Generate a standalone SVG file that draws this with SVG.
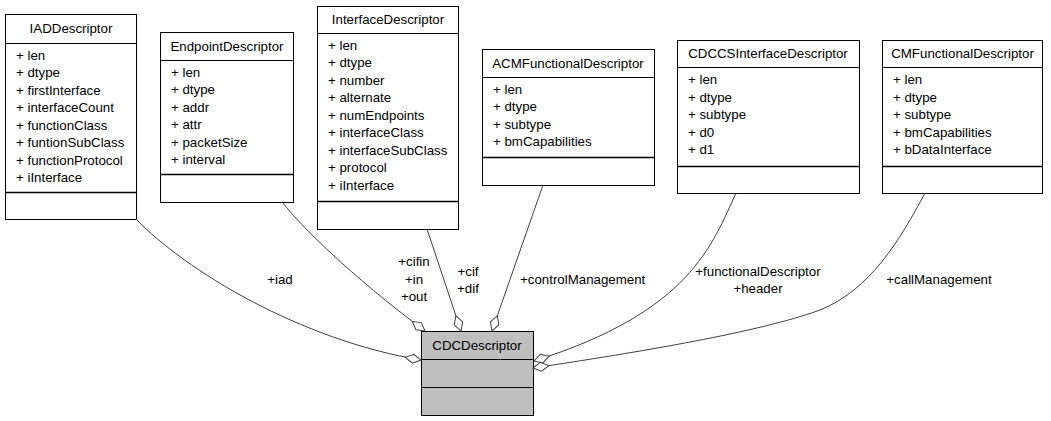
<svg xmlns="http://www.w3.org/2000/svg" width="1051" height="421" viewBox="0 0 1051 421">
<style>
  .box { fill: #ffffff; stroke: #000000; stroke-width: 1; }
  .cdc { fill: #bfbfbf; stroke: #000000; stroke-width: 1; }
  .sep { stroke: #000000; stroke-width: 1; }
  .sep2 { stroke: #000000; stroke-width: 1.6; }
  text { font-family: "Liberation Sans", Arial, Helvetica, sans-serif; font-size: 13.3px; fill: #000000; }
  .title { text-anchor: middle; }
  .mid { text-anchor: middle; }
  .edge { fill: none; stroke: #404040; stroke-width: 1; marker-end: url(#odiamond); }
</style>
<defs>
  <marker id="odiamond" viewBox="-1 -1 18 11" refX="16" refY="4.5" markerWidth="18" markerHeight="11" markerUnits="userSpaceOnUse" orient="auto">
    <path d="M0,4.5 L8,0 L16,4.5 L8,9 Z" fill="#ffffff" stroke="#404040" stroke-width="1"/>
  </marker>
</defs>
<rect width="1051" height="421" fill="#ffffff"/>

<g id="IADDescriptor">
  <rect class="box" x="5.5" y="14.5" width="131" height="205"/>
  <line class="sep" x1="5.5" y1="43.5" x2="136.5" y2="43.5"/>
  <line class="sep2" x1="5.5" y1="192.5" x2="136.5" y2="192.5"/>
  <text class="title" x="71" y="33">IADDescriptor</text>
  <text x="16" y="59.5">+ len</text>
  <text x="16" y="77">+ dtype</text>
  <text x="16" y="94.5">+ firstInterface</text>
  <text x="16" y="112">+ interfaceCount</text>
  <text x="16" y="129.5">+ functionClass</text>
  <text x="16" y="147">+ funtionSubClass</text>
  <text x="16" y="164.5">+ functionProtocol</text>
  <text x="16" y="182">+ iInterface</text>
</g>

<g id="EndpointDescriptor">
  <rect class="box" x="160.5" y="32.5" width="133" height="170"/>
  <line class="sep" x1="160.5" y1="60.5" x2="293.5" y2="60.5"/>
  <line class="sep2" x1="160.5" y1="174.5" x2="293.5" y2="174.5"/>
  <text class="title" x="227" y="50.5">EndpointDescriptor</text>
  <text x="171" y="76.5">+ len</text>
  <text x="171" y="94">+ dtype</text>
  <text x="171" y="111.5">+ addr</text>
  <text x="171" y="129">+ attr</text>
  <text x="171" y="146.5">+ packetSize</text>
  <text x="171" y="164">+ interval</text>
</g>

<g id="InterfaceDescriptor">
  <rect class="box" x="317.5" y="6.5" width="141" height="223"/>
  <line class="sep" x1="317.5" y1="33.5" x2="458.5" y2="33.5"/>
  <line class="sep2" x1="317.5" y1="201.5" x2="458.5" y2="201.5"/>
  <text class="title" x="388" y="24">InterfaceDescriptor</text>
  <text x="328" y="49.5">+ len</text>
  <text x="328" y="67">+ dtype</text>
  <text x="328" y="84.5">+ number</text>
  <text x="328" y="102">+ alternate</text>
  <text x="328" y="119.5">+ numEndpoints</text>
  <text x="328" y="137">+ interfaceClass</text>
  <text x="328" y="154.5">+ interfaceSubClass</text>
  <text x="328" y="172">+ protocol</text>
  <text x="328" y="189.5">+ iInterface</text>
</g>

<g id="ACMFunctionalDescriptor">
  <rect class="box" x="482.5" y="49.5" width="172" height="136"/>
  <line class="sep" x1="482.5" y1="77.5" x2="654.5" y2="77.5"/>
  <line class="sep2" x1="482.5" y1="157.5" x2="654.5" y2="157.5"/>
  <text class="title" x="568" y="67.5">ACMFunctionalDescriptor</text>
  <text x="493" y="93.5">+ len</text>
  <text x="493" y="111">+ dtype</text>
  <text x="493" y="128.5">+ subtype</text>
  <text x="493" y="146">+ bmCapabilities</text>
</g>

<g id="CDCCSInterfaceDescriptor">
  <rect class="box" x="677.5" y="40.5" width="182" height="153"/>
  <line class="sep" x1="677.5" y1="67.5" x2="859.5" y2="67.5"/>
  <line class="sep2" x1="677.5" y1="166.5" x2="859.5" y2="166.5"/>
  <text class="title" x="768" y="58">CDCCSInterfaceDescriptor</text>
  <text x="688" y="84">+ len</text>
  <text x="688" y="101.5">+ dtype</text>
  <text x="688" y="119">+ subtype</text>
  <text x="688" y="136.5">+ d0</text>
  <text x="688" y="154">+ d1</text>
</g>

<g id="CMFunctionalDescriptor">
  <rect class="box" x="882.5" y="40.5" width="160" height="153"/>
  <line class="sep" x1="882.5" y1="67.5" x2="1042.5" y2="67.5"/>
  <line class="sep2" x1="882.5" y1="166.5" x2="1042.5" y2="166.5"/>
  <text class="title" x="962.5" y="58">CMFunctionalDescriptor</text>
  <text x="893" y="84">+ len</text>
  <text x="893" y="101.5">+ dtype</text>
  <text x="893" y="119">+ subtype</text>
  <text x="893" y="136.5">+ bmCapabilities</text>
  <text x="893" y="154">+ bDataInterface</text>
</g>

<g id="CDCDescriptor">
  <rect class="cdc" x="421.5" y="331.5" width="112" height="84"/>
  <line class="sep" x1="421.5" y1="359.5" x2="533.5" y2="359.5"/>
  <line class="sep" x1="421.5" y1="387.5" x2="533.5" y2="387.5"/>
  <text class="title" x="477" y="349.5">CDCDescriptor</text>
</g>

<g id="connectors">
  <g id="edge-iad">
    <path class="edge" d="M136,219 C185,270 300,340 421,360"/>
    <text class="mid" x="280" y="283.5">+iad</text>
  </g>
  <g id="edge-endpoint">
    <path class="edge" d="M283,203 C300,225 350,275 425,331"/>
    <text class="mid" x="414" y="266">+cifin</text>
    <text class="mid" x="414" y="283.5">+in</text>
    <text class="mid" x="414" y="301">+out</text>
  </g>
  <g id="edge-interface">
    <path class="edge" d="M427,229 L461,331"/>
    <text class="mid" x="468" y="275.5">+cif</text>
    <text class="mid" x="468" y="292.5">+dif</text>
  </g>
  <g id="edge-acm">
    <path class="edge" d="M543,185 L492,331"/>
    <text x="520" y="283.5">+controlManagement</text>
  </g>
  <g id="edge-cdccs">
    <path class="edge" d="M736,193 C712,245 690,312 534,361"/>
    <text class="mid" x="758" y="275.5">+functionalDescriptor</text>
    <text class="mid" x="758" y="292.5">+header</text>
  </g>
  <g id="edge-cm">
    <path class="edge" d="M925,193 C900,240 870,290 820,310 C760,332 640,352 533,368"/>
    <text class="mid" x="939" y="283.5">+callManagement</text>
  </g>
</g>
</svg>
